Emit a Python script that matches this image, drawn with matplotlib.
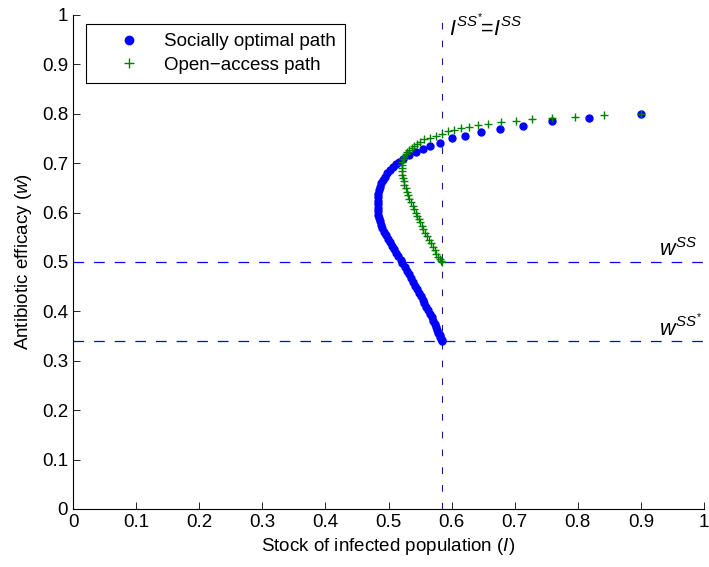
import matplotlib
matplotlib.use("Agg")
import matplotlib.pyplot as plt

plt.rcParams['font.family'] = ['Liberation Sans', 'DejaVu Sans']
plt.rcParams['mathtext.fontset'] = 'custom'
plt.rcParams['mathtext.rm'] = 'Liberation Sans'
plt.rcParams['mathtext.it'] = 'Liberation Sans:italic'

# socially optimal path (I, w)
opt_I = [0.900, 0.818, 0.759, 0.713, 0.676, 0.647, 0.621, 0.601, 0.582, 0.566,
         0.555, 0.544, 0.533, 0.523, 0.517, 0.512, 0.507, 0.502, 0.498, 0.494,
         0.491, 0.488, 0.486, 0.485, 0.484, 0.483, 0.483, 0.483, 0.483, 0.484,
         0.484, 0.485, 0.486, 0.488, 0.490, 0.493, 0.496, 0.499, 0.502, 0.505,
         0.508, 0.512, 0.515, 0.519, 0.522, 0.526, 0.529, 0.532, 0.535, 0.539,
         0.542, 0.545, 0.548, 0.551, 0.554, 0.557, 0.560, 0.563, 0.566, 0.569,
         0.571, 0.573, 0.575, 0.577, 0.579, 0.581, 0.582, 0.583, 0.584, 0.585]
opt_w = [0.800, 0.791, 0.785, 0.776, 0.770, 0.764, 0.756, 0.750, 0.741, 0.735,
         0.729, 0.723, 0.716, 0.709, 0.703, 0.698, 0.692, 0.686, 0.680, 0.673,
         0.666, 0.659, 0.652, 0.645, 0.638, 0.631, 0.624, 0.617, 0.610, 0.603,
         0.596, 0.589, 0.582, 0.575, 0.568, 0.561, 0.554, 0.547, 0.540, 0.533,
         0.526, 0.519, 0.512, 0.504, 0.497, 0.489, 0.482, 0.475, 0.468, 0.460,
         0.452, 0.445, 0.438, 0.431, 0.423, 0.416, 0.409, 0.402, 0.395, 0.388,
         0.381, 0.375, 0.369, 0.363, 0.357, 0.352, 0.348, 0.345, 0.342, 0.340]

# open-access path (I, w)
oa_I = [0.900, 0.841, 0.795, 0.759, 0.727, 0.702, 0.679, 0.658, 0.642, 0.628,
        0.615, 0.604, 0.594, 0.585, 0.576, 0.565, 0.557, 0.550, 0.545, 0.541,
        0.537, 0.533, 0.530, 0.527, 0.525, 0.523, 0.522, 0.521, 0.521, 0.521,
        0.522, 0.523, 0.524, 0.525, 0.527, 0.529, 0.531, 0.533, 0.535, 0.538,
        0.540, 0.543, 0.545, 0.548, 0.550, 0.553, 0.555, 0.558, 0.561, 0.564,
        0.567, 0.570, 0.573, 0.576, 0.579, 0.581, 0.583, 0.585]
oa_w = [0.800, 0.797, 0.794, 0.792, 0.789, 0.786, 0.783, 0.779, 0.777, 0.774,
        0.771, 0.768, 0.765, 0.759, 0.756, 0.751, 0.748, 0.743, 0.738, 0.734,
        0.730, 0.726, 0.722, 0.718, 0.713, 0.708, 0.703, 0.697, 0.690, 0.684,
        0.677, 0.670, 0.663, 0.656, 0.649, 0.642, 0.635, 0.628, 0.621, 0.614,
        0.607, 0.600, 0.594, 0.587, 0.580, 0.573, 0.566, 0.559, 0.552, 0.545,
        0.538, 0.531, 0.524, 0.517, 0.511, 0.506, 0.503, 0.500]

I_ss = 0.585      # I^SS* = I^SS
w_ss = 0.5        # open access steady state
w_ss_opt = 0.34   # optimal steady state

fig = plt.figure(figsize=(7.09, 5.67), dpi=100)
ax = fig.add_axes([0.1030, 0.1023, 0.8900, 0.8713])

blue = '#0000ff'
green = '#008000'

ax.plot([0, 1], [w_ss, w_ss], color=blue, lw=0.9, dashes=(8.5, 8))
ax.plot([0, 1], [w_ss_opt, w_ss_opt], color=blue, lw=0.9, dashes=(8.5, 8))
ax.plot([I_ss, I_ss], [0, 1], color='#1a1a8c', lw=0.8, dashes=(6, 10))

ax.plot(opt_I, opt_w, 'o', color=blue, ms=5, mec=blue, label='Socially optimal path')
ax.plot(oa_I, oa_w, '+', color=green, ms=6, mew=1, label='Open\u2212access path')

ax.text(0.596, 0.958, r'$I^{SS^{*}}\!\!=\!I^{SS}$', fontsize=15.5)
ax.text(0.928, 0.512, r'$w^{SS}$', fontsize=15.5)
ax.text(0.928, 0.352, r'$w^{SS^{*}}$', fontsize=15.5)

ax.set_xlim(0, 1)
ax.set_ylim(0, 1)
ax.set_xticks([i / 10 for i in range(11)])
ax.set_yticks([i / 10 for i in range(11)])
ax.set_xticklabels(['0', '0.1', '0.2', '0.3', '0.4', '0.5', '0.6', '0.7', '0.8', '0.9', '1'])
ax.set_yticklabels(['0', '0.1', '0.2', '0.3', '0.4', '0.5', '0.6', '0.7', '0.8', '0.9', '1'])
ax.tick_params(direction='in', length=5, width=0.6, labelsize=13.5, top=False, right=False)
ax.spines['top'].set_visible(False)
ax.spines['right'].set_visible(False)
ax.set_xlabel(r'Stock of infected population ($I$)', fontsize=13.5, labelpad=4)
ax.set_ylabel(r'Antibiotic efficacy ($w$)', fontsize=13.5, labelpad=6)

leg = ax.legend(loc='upper left', bbox_to_anchor=(0.021, 0.982), borderaxespad=0,
                fontsize=13.5, fancybox=False, edgecolor='black', framealpha=1,
                handlelength=3.6, handletextpad=0.05, borderpad=0.5, labelspacing=0.35,
                markerscale=1.2)
leg.get_frame().set_linewidth(0.8)

fig.savefig('out.png', dpi=100)
